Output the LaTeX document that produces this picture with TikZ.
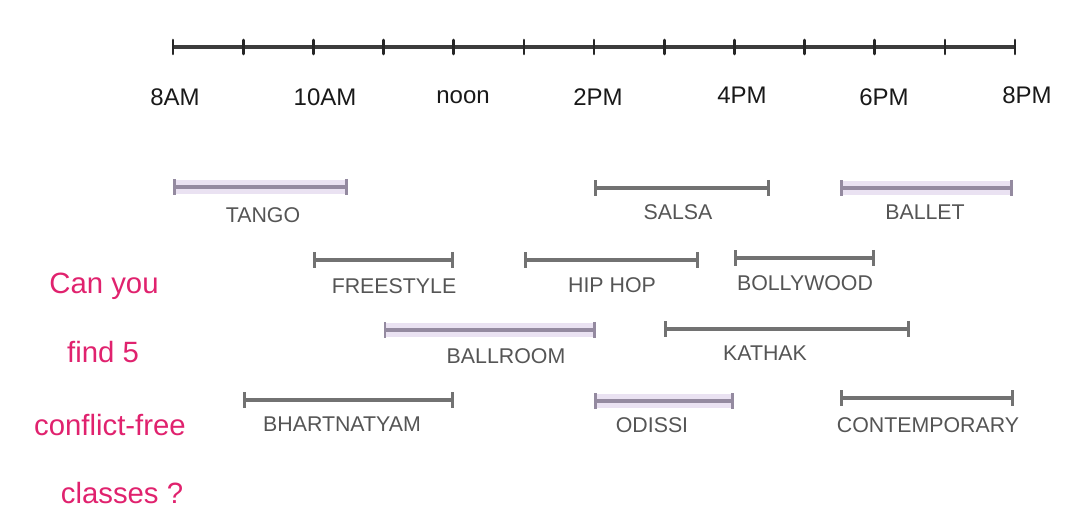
\documentclass[tikz,border=0pt]{standalone}
\usepackage{fontspec}
\setmainfont{Liberation Sans}
\usetikzlibrary{arrows.meta,positioning}
\definecolor{axisgray}{HTML}{3C3C3C}
\definecolor{bargray}{HTML}{727272}
\definecolor{hlbarcol}{HTML}{948AA0}
\definecolor{hlfill}{HTML}{EAE2F2}
\definecolor{lblgray}{HTML}{555555}
\definecolor{askpink}{HTML}{E0226E}

\begin{document}
\begin{tikzpicture}[x=0.75pt, y=-0.75pt,
        axis/.style={line width=2.4pt, axisgray},
        tickmark/.style={line width=2pt, black!85, line cap=round},
        hour/.style={font=\fontsize{18}{20}\selectfont, text=black!90, anchor=center},
        bar/.style={{Bar[width=12pt,line width=2.2pt]}-{Bar[width=12pt,line width=2.2pt]}, line width=2.6pt, bargray},
        hlbar/.style={bar, hlbarcol},
        glow/.style={line width=11pt, hlfill},
        lbl/.style={font=\fontsize{16}{18}\selectfont, text=lblgray},
        ask/.style={font=\fontsize{22}{24}\selectfont, text=askpink}
      ]
      \useasboundingbox (0,0) rectangle (1069,523);
      % time axis
      \foreach \h/\x in {8/173, 9/243.2, 10/313.3, 11/383.5, 12/453.7, 13/523.9, 14/594,
                         15/664.2, 16/734.4, 17/804.6, 18/874.7, 19/944.9, 20/1015}
        \coordinate (t\h) at (\x,47);
      \draw[axis] (t8) -- (t20);
      \foreach \h in {8,...,20}
        \draw[tickmark] (t\h) ++(0,-7) -- ++(0,14);
      \node[hour] (h8) at (175,97) {8AM};
      \node[hour] (h10) at (325,97) {10AM};
      \node[hour] (h12) at (463,97) {noon};
      \node[hour] (h14) at (598,97) {2PM};
      \node[hour] (h16) at (742,95) {4PM};
      \node[hour] (h18) at (884,97) {6PM};
      \node[hour] (h20) at (1027,95) {8PM};

      % row 1
      \coordinate (tango-s) at (173,187);
      \coordinate (tango-e) at (348.4,187);
      \draw[glow] (tango-s) -- (tango-e);
      \draw[hlbar] (tango-s) -- (tango-e);
      \node[lbl] (tango) at (263,215) {TANGO};
      \coordinate (salsa-s) at (594,188);
      \coordinate (salsa-e) at (769.5,188);
      \draw[bar] (salsa-s) -- (salsa-e);
      \node[lbl] (salsa) at (678,212) {SALSA};
      \coordinate (ballet-s) at (839.7,188);
      \coordinate (ballet-e) at (1013,188);
      \draw[glow] (ballet-s) -- (ballet-e);
      \draw[hlbar] (ballet-s) -- (ballet-e);
      \node[lbl] (ballet) at (925,212) {BALLET};

      % row 2
      \coordinate (free-s) at (313.3,260);
      \coordinate (free-e) at (453.7,260);
      \draw[bar] (free-s) -- (free-e);
      \node[lbl] (free) at (394,286) {FREESTYLE};
      \coordinate (hiphop-s) at (523.9,260);
      \coordinate (hiphop-e) at (699.3,260);
      \draw[bar] (hiphop-s) -- (hiphop-e);
      \node[lbl] (hiphop) at (612,285) {HIP HOP};
      \coordinate (bolly-s) at (734.4,258);
      \coordinate (bolly-e) at (874.7,258);
      \draw[bar] (bolly-s) -- (bolly-e);
      \node[lbl] (bolly) at (805,283) {BOLLYWOOD};

      % row 3
      \coordinate (ballroom-s) at (383.5,330);
      \coordinate (ballroom-e) at (596,330);
      \draw[glow] (ballroom-s) -- (ballroom-e);
      \draw[hlbar] (ballroom-s) -- (ballroom-e);
      \node[lbl] (ballroom) at (506,356) {BALLROOM};
      \coordinate (kathak-s) at (664.2,329);
      \coordinate (kathak-e) at (909.8,329);
      \draw[bar] (kathak-s) -- (kathak-e);
      \node[lbl] (kathak) at (765,353) {KATHAK};

      % row 4
      \coordinate (bharat-s) at (243.2,400);
      \coordinate (bharat-e) at (453.7,400);
      \draw[bar] (bharat-s) -- (bharat-e);
      \node[lbl] (bharat) at (342,424) {BHARTNATYAM};
      \coordinate (odissi-s) at (594,401);
      \coordinate (odissi-e) at (734.4,401);
      \draw[glow] (odissi-s) -- (odissi-e);
      \draw[hlbar] (odissi-s) -- (odissi-e);
      \node[lbl] (odissi) at (652,425) {ODISSI};
      \coordinate (contemp-s) at (839.7,398);
      \coordinate (contemp-e) at (1014,398);
      \draw[bar] (contemp-s) -- (contemp-e);
      \node[lbl] (contemp) at (928,425) {CONTEMPORARY};

      % question
      \node[ask] (ask1) at (104,286) {Can you};
      \node[ask] (ask2) at (103,352) {find 5};
      \node[ask] (ask3) at (110,425) {conflict-free};
      \node[ask] (ask4) at (122,493) {classes ?};
    \end{tikzpicture}
\end{document}
